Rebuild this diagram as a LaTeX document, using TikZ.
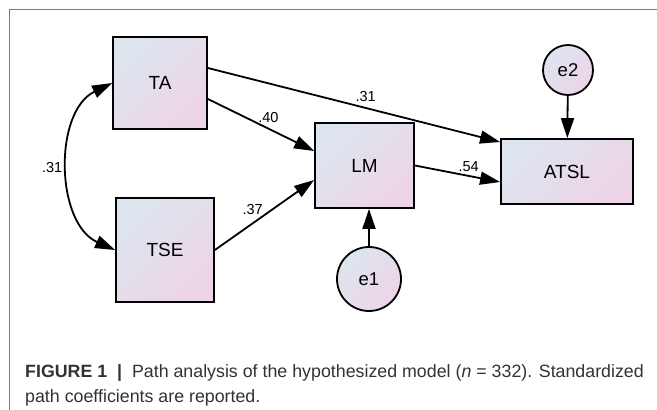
\documentclass[tikz,border=0pt]{standalone}
\usepackage{fontspec}
\setmainfont{Liberation Sans}
\usepackage{tikz}
\usetikzlibrary{arrows.meta,calc,positioning}
\definecolor{boxblue}{RGB}{221,229,238}
\definecolor{boxpink}{RGB}{237,212,231}
\definecolor{framegray}{RGB}{125,125,125}
\definecolor{captext}{RGB}{50,50,50}

\begin{document}
\begin{tikzpicture}[x=1pt,y=-1pt,
var/.style={rectangle,draw,line width=1.8pt,top color=boxblue,bottom color=boxpink,
  shading angle=45,inner sep=0pt,font=\fontsize{19}{22}\selectfont},
err/.style={circle,draw,line width=1.8pt,top color=boxblue,bottom color=boxpink,
  shading angle=45,inner sep=0pt,font=\fontsize{18.5}{22}\selectfont},
arr/.style={line width=1.8pt,-{Triangle[length=20pt,width=13pt]}},
coef/.style={font=\fontsize{14.5}{16}\selectfont,inner sep=1pt},
captxt/.style={anchor=base west,inner sep=0pt,text=captext,font=\fontsize{17.8}{20}\selectfont}]
\useasboundingbox (0,0) rectangle (657,410);
\draw[framegray,line width=0.9pt] (9,410) -- (9,9) -- (657,9);

% observed variables
\node (ta) at (160,83) [var,minimum width=94pt,minimum height=92pt] {TA};
\node (tse) at (165,250) [var,minimum width=98pt,minimum height=104pt] {TSE};
\node (lm) at (364.5,165.5) [var,minimum width=99pt,minimum height=85pt] {LM};
\node (atsl) at (567,171.5) [var,minimum width=132pt,minimum height=65pt] {ATSL};
% error terms
\node (e2) at (568,70) [err,minimum size=50pt] {e2};
\node (e1) at (369,279) [err,minimum size=64pt] {e1};

\draw[arr] ($(ta.east)+(0,-15)$) -- node[coef,pos=0.54,above=4pt] {.31} ($(atsl.west)+(0,-29.5)$);
\draw[arr] ($(ta.east)+(0,16)$) -- node[coef,pos=0.57,above=4pt] {.40} ($(lm.west)+(0,-14.5)$);
\draw[arr] (tse.east) -- node[coef,pos=0.38,above=7pt] {.37} ($(lm.west)+(0,14.5)$);
\draw[arr] (lm.east) -- node[coef,pos=0.63,above=2pt] {.54} ($(atsl.west)+(0,10.5)$);
\draw[arr] (e2) -- (atsl);
\draw[arr] (e1.north) -- (e1.north |- lm.south);
\draw[line width=1.8pt,{Triangle[length=20pt,width=13pt]}-{Triangle[length=20pt,width=13pt]}]
  (ta.west) to[bend right=65] node[coef,left=5pt] {.31} (tse.west);

% caption
\node (cap1) at (25,377) [captxt] {\textbf{FIGURE 1} \ \textbf{|} \ Path analysis of the hypothesized model (\textit{n} = 332). Standardized};
\node (cap2) at (25,402) [captxt] {path coefficients are reported.};
\end{tikzpicture}
\end{document}
